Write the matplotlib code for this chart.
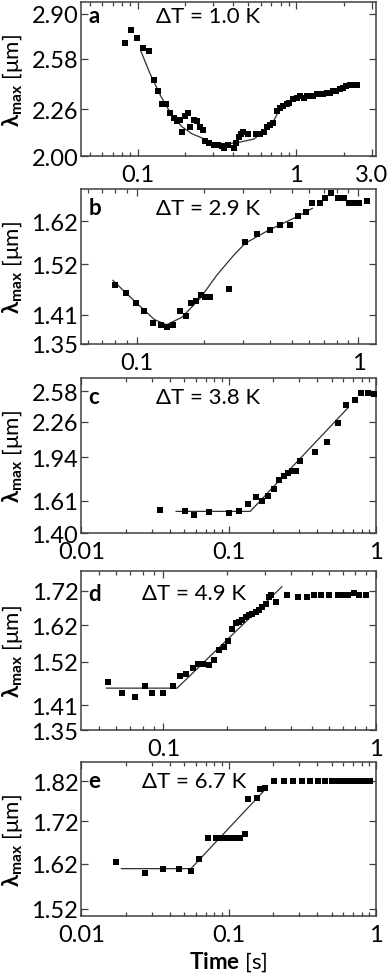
import matplotlib
matplotlib.use("Agg")
import matplotlib.pyplot as plt
from matplotlib.ticker import FixedLocator, NullFormatter, LogLocator

plt.rcParams['font.family'] = ['Lato', 'DejaVu Sans']
plt.rcParams['mathtext.fontset'] = 'custom'
plt.rcParams['mathtext.rm'] = 'Lato'
plt.rcParams['mathtext.bf'] = 'Lato:bold'
plt.rcParams['mathtext.fallback'] = 'stixsans'

# ---- panel a : dT = 1.0 K ----
a_t = [0.0828, 0.091, 0.0996, 0.1086, 0.1178, 0.1266, 0.134, 0.143, 0.151, 0.161,
       0.169, 0.177, 0.186, 0.191, 0.200, 0.207, 0.215, 0.226, 0.237, 0.249,
       0.259, 0.268, 0.281, 0.302, 0.324, 0.341, 0.352, 0.375, 0.404, 0.42,
       0.434, 0.45, 0.466, 0.50, 0.56, 0.594, 0.63, 0.654, 0.69, 0.72,
       0.76, 0.793, 0.83, 0.874, 0.91, 0.962, 1.01, 1.06, 1.12, 1.17,
       1.23, 1.28, 1.35, 1.42, 1.49, 1.56, 1.64, 1.72, 1.80, 1.89,
       1.98, 2.08, 2.18, 2.29, 2.41]
a_lam = [2.69, 2.78, 2.72, 2.65, 2.63, 2.44, 2.37, 2.29, 2.29, 2.24,
         2.21, 2.19, 2.20, 2.13, 2.22, 2.24, 2.16, 2.20, 2.19, 2.16,
         2.14, 2.08, 2.07, 2.06, 2.06, 2.055, 2.04, 2.06, 2.04, 2.07,
         2.10, 2.12, 2.13, 2.12, 2.12, 2.12, 2.13, 2.16, 2.17, 2.18,
         2.25, 2.27, 2.28, 2.29, 2.30, 2.32, 2.33, 2.34, 2.33, 2.34,
         2.34, 2.34, 2.35, 2.35, 2.35, 2.36, 2.36, 2.37, 2.37, 2.38,
         2.39, 2.40, 2.41, 2.41, 2.41]
a_fit_t = [0.105, 0.12, 0.14, 0.161, 0.19, 0.22, 0.25, 0.30, 0.36, 0.42, 0.54, 0.65, 0.72, 0.78]
a_fit_lam = [2.63, 2.48, 2.34, 2.24, 2.16, 2.12, 2.10, 2.07, 2.065, 2.07, 2.09, 2.14, 2.19, 2.25]

# ---- panel b : dT = 2.9 K ----
b_t = [0.0801, 0.0892, 0.0987, 0.108, 0.1186, 0.1284, 0.137, 0.146, 0.1565, 0.166,
       0.175, 0.1844, 0.194, 0.203, 0.214, 0.260, 0.308, 0.348, 0.397, 0.444,
       0.489, 0.533, 0.578, 0.617, 0.668, 0.709, 0.755, 0.806, 0.859, 0.904,
       0.952, 1.01, 1.087]
b_lam = [1.474, 1.457, 1.435, 1.417, 1.392, 1.389, 1.385, 1.389, 1.417, 1.407,
         1.435, 1.440, 1.452, 1.448, 1.448, 1.464, 1.572, 1.591, 1.600, 1.612,
         1.612, 1.634, 1.642, 1.664, 1.664, 1.677, 1.689, 1.677, 1.677, 1.664,
         1.664, 1.664, 1.670]
b_fit_t = [0.078, 0.09, 0.105, 0.12, 0.136, 0.16, 0.193, 0.229, 0.273, 0.308, 0.39, 0.54, 0.62]
b_fit_lam = [1.484, 1.455, 1.425, 1.400, 1.389, 1.405, 1.445, 1.495, 1.540, 1.568, 1.598, 1.634, 1.652]

# ---- panel c : dT = 3.8 K ----
c_t = [0.034, 0.0507, 0.0586, 0.0736, 0.101, 0.118, 0.136, 0.153, 0.169, 0.185,
       0.202, 0.219, 0.237, 0.253, 0.270, 0.288, 0.303, 0.383, 0.466, 0.551,
       0.627, 0.721, 0.792, 0.879, 0.975]
c_lam = [1.547, 1.537, 1.513, 1.530, 1.524, 1.537, 1.586, 1.633, 1.609, 1.644,
         1.693, 1.759, 1.790, 1.811, 1.827, 1.827, 1.906, 1.983, 2.076, 2.247,
         2.433, 2.483, 2.560, 2.565, 2.550]
c_fit_t = [0.044, 0.140, 0.644]
c_fit_lam = [1.537, 1.537, 2.40]

# ---- panel d : dT = 4.9 K ----
d_t = [0.0552, 0.0638, 0.0738, 0.0822, 0.0885, 0.100, 0.111, 0.120, 0.128, 0.138,
       0.145, 0.154, 0.164, 0.173, 0.182, 0.192, 0.202, 0.211, 0.219, 0.227,
       0.235, 0.244, 0.253, 0.262, 0.272, 0.282, 0.292, 0.303, 0.314, 0.322,
       0.337, 0.383, 0.431, 0.473, 0.512, 0.554, 0.603, 0.660, 0.696, 0.735,
       0.790, 0.834, 0.897]
d_lam = [1.467, 1.440, 1.430, 1.458, 1.440, 1.440, 1.458, 1.484, 1.488, 1.505,
         1.513, 1.515, 1.511, 1.525, 1.551, 1.560, 1.577, 1.608, 1.627, 1.629,
         1.634, 1.644, 1.648, 1.653, 1.658, 1.662, 1.672, 1.681, 1.701, 1.706,
         1.686, 1.706, 1.701, 1.701, 1.706, 1.706, 1.708, 1.706, 1.708, 1.706,
         1.712, 1.708, 1.708]
d_fit_t = [0.0539, 0.116, 0.361]
d_fit_lam = [1.452, 1.452, 1.732]

# ---- panel e : dT = 6.7 K ----
e_t = [0.0173, 0.0272, 0.0361, 0.0458, 0.0554, 0.0631, 0.0719, 0.0817, 0.0907, 0.098,
       0.106, 0.1145, 0.119, 0.129, 0.135, 0.155, 0.164, 0.177, 0.204, 0.236,
       0.275, 0.313, 0.356, 0.406, 0.450, 0.499, 0.539, 0.583, 0.630, 0.663,
       0.698, 0.735, 0.774, 0.815, 0.859, 0.904]
e_lam = [1.623, 1.600, 1.609, 1.609, 1.603, 1.631, 1.681, 1.681, 1.681, 1.681,
         1.681, 1.681, 1.681, 1.689, 1.774, 1.777, 1.800, 1.804, 1.821, 1.821,
         1.821, 1.821, 1.821, 1.821, 1.821, 1.821, 1.821, 1.821, 1.821, 1.821,
         1.821, 1.821, 1.821, 1.821, 1.821, 1.821]
e_fit_t = [0.0187, 0.0554, 0.182]
e_fit_lam = [1.609, 1.609, 1.804]

panels = [
    ("a", "1.0", a_t, a_lam, a_fit_t, a_fit_lam, (0.044, 3.2), (2.0, 2.99),
     [2.00, 2.26, 2.58, 2.90], [0.1, 1, 3.0], ["0.1", "1", "3.0"], (0.43, 0.91)),
    ("b", "2.9", b_t, b_lam, b_fit_t, b_fit_lam, (0.056, 1.2), (1.35, 1.70),
     [1.35, 1.41, 1.52, 1.62], [0.1, 1], ["0.1", "1"], (0.43, 0.88)),
    ("c", "3.8", c_t, c_lam, c_fit_t, c_fit_lam, (0.00995, 1.0), (1.40, 2.73),
     [1.40, 1.61, 1.94, 2.26, 2.58], [0.01, 0.1, 1], ["0.01", "0.1", "1"], (0.43, 0.88)),
    ("d", "4.9", d_t, d_lam, d_fit_t, d_fit_lam, (0.041, 1.0), (1.35, 1.78),
     [1.35, 1.41, 1.52, 1.62, 1.72], [0.1, 1], ["0.1", "1"], (0.383, 0.86)),
    ("e", "6.7", e_t, e_lam, e_fit_t, e_fit_lam, (0.00995, 1.0), (1.505, 1.87),
     [1.52, 1.62, 1.72, 1.82], [0.01, 0.1, 1], ["0.01", "0.1", "1"], (0.383, 0.88)),
]

# axes boxes in figure fractions (left, bottom, width, height)
boxes = [
    (0.2072, 0.8396, 0.7545, 0.1573),
    (0.2072, 0.6476, 0.7545, 0.1583),
    (0.2072, 0.4545, 0.7545, 0.1583),
    (0.2072, 0.2533, 0.7545, 0.1624),
    (0.2072, 0.0633, 0.7545, 0.1573),
]

fig = plt.figure(figsize=(3.91, 9.79), dpi=100)
edge = "#404040"

for (letter, dT, t, lam, ft, flam, xlim, ylim, yt, xt, xtl, txy), box in zip(panels, boxes):
    ax = fig.add_axes(box)
    ax.plot(ft, flam, color="#303030", lw=0.9, zorder=2)
    ax.plot(t, lam, "s", color="black", ms=4.2, mew=0, zorder=3)
    ax.set_xscale("log")
    ax.set_yscale("log")
    ax.set_xlim(*xlim)
    ax.set_ylim(*ylim)
    ax.yaxis.set_major_locator(FixedLocator(yt))
    ax.yaxis.set_minor_locator(FixedLocator([]))
    ax.set_yticklabels(["%.2f" % v for v in yt])
    ax.yaxis.set_minor_formatter(NullFormatter())
    ax.xaxis.set_major_locator(FixedLocator(xt))
    ax.set_xticklabels(xtl)
    ax.xaxis.set_minor_locator(LogLocator(base=10, subs=range(2, 10)))
    ax.xaxis.set_minor_formatter(NullFormatter())
    ax.tick_params(which="both", direction="in", top=True, right=True, color=edge,
                   labelsize=17, width=0.9)
    ax.tick_params(which="major", length=5)
    ax.tick_params(which="minor", length=3)
    ax.tick_params(axis="x", pad=6)
    ax.tick_params(axis="y", pad=2)
    for s in ax.spines.values():
        s.set_color(edge)
        s.set_linewidth(1.1)
    ax.text(0.025, txy[1], letter, transform=ax.transAxes, fontsize=16,
            fontweight="bold", va="center", ha="left")
    ax.text(txy[0], txy[1], "ΔT = %s K" % dT, transform=ax.transAxes,
            fontsize=16, va="center", ha="center")
    ax.set_ylabel(r"$\mathbf{\lambda_{max}}$ [μm]", fontsize=16)
    ax.yaxis.set_label_coords(-0.19, 0.5)
    if letter == "e":
        ax.set_xlabel(r"$\mathbf{Time}$ [s]", fontsize=16, labelpad=3)

fig.savefig("out.png", dpi=100)
